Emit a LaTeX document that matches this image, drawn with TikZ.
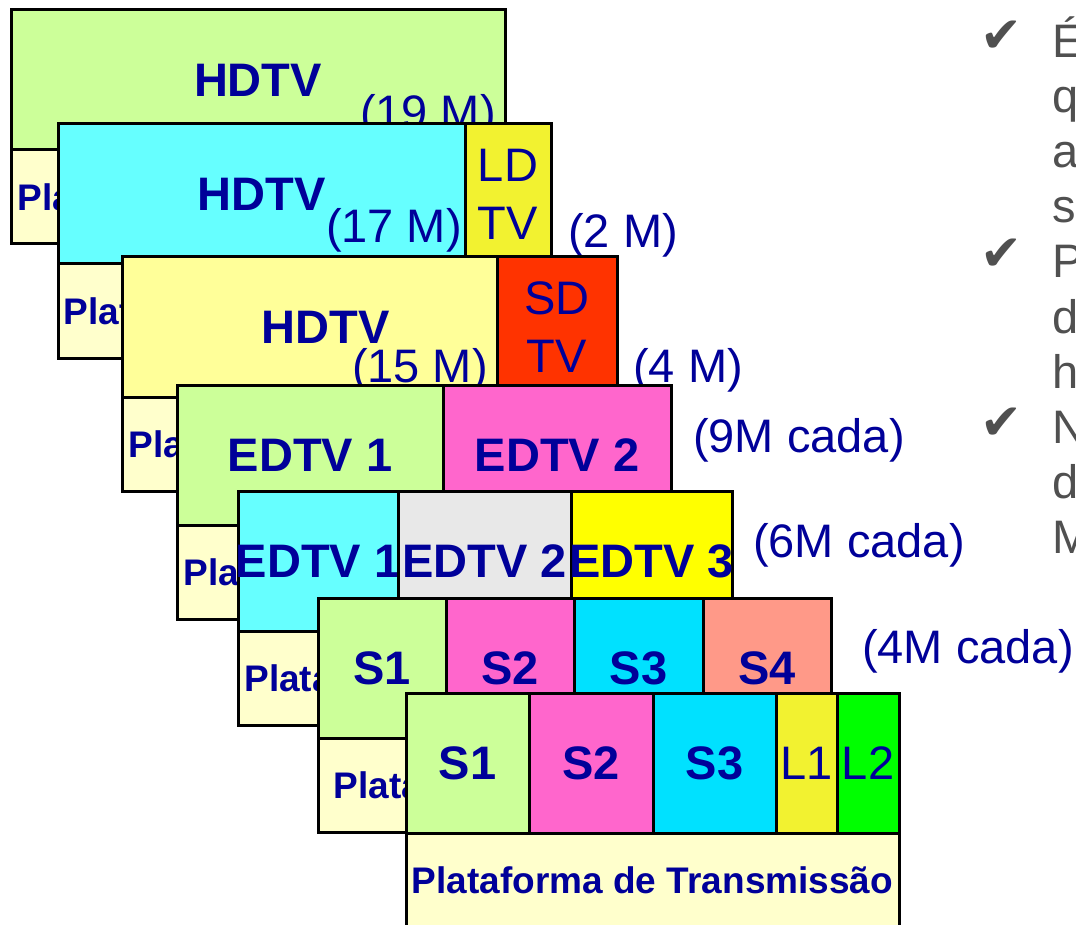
\documentclass[tikz,border=0pt]{standalone}
\usepackage{fontspec}
\setmainfont{Liberation Sans}
\newfontfamily\tickfont{DejaVu Sans}
\usepackage{tikz}
\usetikzlibrary{positioning}

\definecolor{hdgreen}{HTML}{CCFF99}
\definecolor{hdcyan}{HTML}{66FFFF}
\definecolor{hdyellow}{HTML}{FFFF99}
\definecolor{ldyellow}{HTML}{F2F230}
\definecolor{sdred}{HTML}{FF3300}
\definecolor{edpink}{HTML}{FF66CC}
\definecolor{edgrey}{HTML}{E8E8E8}
\definecolor{edyellow}{HTML}{FFFF00}
\definecolor{scyan}{HTML}{00E1FF}
\definecolor{ssalmon}{HTML}{FF9988}
\definecolor{lgreen}{HTML}{00FF00}
\definecolor{platyellow}{HTML}{FFFFCC}
\definecolor{labelblue}{HTML}{000099}
\definecolor{notegrey}{HTML}{505050}

\tikzset{
  cell/.style={draw=black, line width=3pt, anchor=north west, minimum height=140pt,
    inner sep=0pt, outer sep=0pt, text=labelblue, align=center,
    font=\fontsize{47}{58}\selectfont\bfseries},
  thincell/.style={cell, font=\fontsize{47}{58}\selectfont},
  plat/.style={draw=black, line width=3pt, anchor=north west, fill=platyellow,
    minimum height=94pt, inner sep=0pt, outer sep=0pt, text=labelblue,
    font=\fontsize{37}{40}\selectfont\bfseries},
  rate/.style={text=labelblue, inner sep=0pt, font=\fontsize{47}{54}\selectfont},
  note/.style={text=notegrey, inner sep=0pt, anchor=base west, font=\fontsize{47}{55}\selectfont},
  tick/.style={text=notegrey, inner sep=0pt, anchor=base west, font=\tickfont\fontsize{50}{50}\selectfont}
}

\begin{document}
\begin{tikzpicture}[x=1pt, y=-1pt]

  \useasboundingbox (0,0) rectangle (1076,925);
  \clip (0,0) rectangle (1076,925);

  % Layer 1 - one HDTV
  \node[plat, minimum width=494pt] (plat1) at (11,150) {Plataforma de Transmissão};
  \node[cell, fill=hdgreen, minimum width=494pt] (hd1) at (11,10) {HDTV};
  \node[rate, anchor=base east] (r19) at (496,129) {(19 M)};

  % Layer 2 - HDTV + LDTV
  \node[plat, minimum width=493pt] (plat2) at (58,264) {Plataforma de Transmissão};
  \node[cell, fill=hdcyan, minimum width=407pt] (hd2) at (58,124) {HDTV};
  \node[thincell, fill=ldyellow, minimum width=86pt, right=0pt of hd2] (ld2) {LD\\TV};
  \node[rate, anchor=base east] (r17) at (462,243) {(17 M)};
  \node[rate, anchor=base west] (r2) at (568,248) {(2 M)};

  % Layer 3 - HDTV + SDTV
  \node[plat, minimum width=495pt] (plat3) at (122,397) {Plataforma de Transmissão};
  \node[cell, fill=hdyellow, minimum width=375pt] (hd3) at (122,257) {\hspace*{32pt}HDTV};
  \node[thincell, fill=sdred, minimum width=120pt, right=0pt of hd3] (sd3) {SD\\TV};
  \node[rate, anchor=base east] (r15) at (488,382) {(15 M)};
  \node[rate, anchor=base west] (r4a) at (633,382) {(4 M)};

  % Layer 4 - two EDTV
  \node[plat, minimum width=494pt] (plat4) at (177,525) {Plataforma de Transmissão};
  \node[cell, fill=hdgreen, minimum width=266pt] (ed41) at (177,385) {EDTV 1};
  \node[cell, fill=edpink, minimum width=228pt, right=0pt of ed41] (ed42) {EDTV 2};
  \node[rate, anchor=base west] (r9) at (693,452) {(9M cada)};

  % Layer 5 - three EDTV (labels wider than the cells)
  \node[plat, minimum width=494pt] (plat5) at (238,631) {Plataforma de Transmissão};
  \node[cell, fill=hdcyan, minimum width=160pt] (ed51) at (238,491) {\makebox[0pt]{EDTV 1}};
  \node[cell, fill=edgrey, minimum width=173pt, right=0pt of ed51] (ed52) {\makebox[0pt]{EDTV 2}};
  \node[cell, fill=edyellow, minimum width=161pt, right=0pt of ed52] (ed53) {\makebox[0pt]{EDTV 3}};
  \node[rate, anchor=base west] (r6) at (753,557) {(6M cada)};

  % Layer 6 - four SDTV
  \node[plat, minimum width=513pt] (plat6) at (318,738) {Plataforma de Transmissão};
  \node[cell, fill=hdgreen, minimum width=128pt] (s61) at (318,598) {S1};
  \node[cell, fill=edpink, minimum width=128pt, right=0pt of s61] (s62) {S2};
  \node[cell, fill=scyan, minimum width=129pt, right=0pt of s62] (s63) {S3};
  \node[cell, fill=ssalmon, minimum width=128pt, right=0pt of s63] (s64) {S4};
  \node[rate, anchor=base west] (r4b) at (862,663) {(4M cada)};

  % Layer 7 - three SDTV + two LDTV
  \node[plat, minimum width=493pt] (plat7) at (406,833) {Plataforma de Transmissão};
  \node[cell, fill=hdgreen, minimum width=123pt] (s71) at (406,693) {S1};
  \node[cell, fill=edpink, minimum width=124pt, right=0pt of s71] (s72) {S2};
  \node[cell, fill=scyan, minimum width=123pt, right=0pt of s72] (s73) {S3};
  \node[thincell, fill=ldyellow, minimum width=61pt, right=0pt of s73] (l71) {L1};
  \node[thincell, fill=lgreen, minimum width=62pt, right=0pt of l71] (l72) {L2};

  % Notes on the right (cut by the page edge)
  \foreach \y [count=\i] in {53,271,439}
    \node[tick] (tick\i) at (980,\y) {✔};
  \foreach \ch [count=\i] in {É,q,a,s,P,d,h,N,d,M}
    \node[note] (line\i) at (1052,3+55*\i) {\ch};

\end{tikzpicture}
\end{document}
